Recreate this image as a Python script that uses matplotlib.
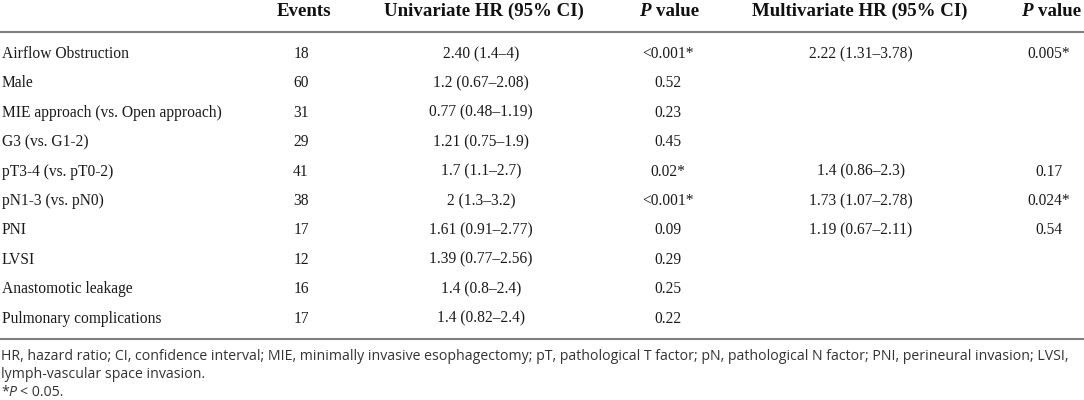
import matplotlib
matplotlib.use("Agg")
import matplotlib.pyplot as plt

# table content
variables = [
    "Airflow Obstruction",
    "Male",
    "MIE approach (vs. Open approach)",
    "G3 (vs. G1-2)",
    "pT3-4 (vs. pT0-2)",
    "pN1-3 (vs. pN0)",
    "PNI",
    "LVSI",
    "Anastomotic leakage",
    "Pulmonary complications",
]
events = [18, 60, 31, 29, 41, 38, 17, 12, 16, 17]
uni_hr = [
    "2.40 (1.4–4)", "1.2 (0.67–2.08)", "0.77 (0.48–1.19)", "1.21 (0.75–1.9)",
    "1.7 (1.1–2.7)", "2 (1.3–3.2)", "1.61 (0.91–2.77)", "1.39 (0.77–2.56)",
    "1.4 (0.8–2.4)", "1.4 (0.82–2.4)",
]
uni_p = ["<0.001*", "0.52", "0.23", "0.45", "0.02*", "<0.001*", "0.09", "0.29", "0.25", "0.22"]
multi_hr = ["2.22 (1.31–3.78)", "", "", "", "1.4 (0.86–2.3)", "1.73 (1.07–2.78)",
            "1.19 (0.67–2.11)", "", "", ""]
multi_p = ["0.005*", "", "", "", "0.17", "0.024*", "0.54", "", "", ""]

headers = ["", "Events", "Univariate HR (95% CI)", "P value", "Multivariate HR (95% CI)", "P value"]
footnotes = [
    "HR, hazard ratio; CI, confidence interval; MIE, minimally invasive esophagectomy; pT, "
    "pathological T factor; pN, pathological N factor; PNI, perineural invasion; LVSI,",
    "lymph-vascular space invasion.",
]
sig_note = ("*", "P", "< 0.05.")

W, H = 1084, 400
SERIF = "Liberation Serif"
SANS = "Open Sans"

fig = plt.figure(figsize=(W / 100, H / 100), dpi=100)
ax = fig.add_axes([0, 0, 1, 1])
ax.set_xlim(0, W)
ax.set_ylim(H, 0)
ax.axis("off")
renderer = fig.canvas.get_renderer()

head_x = [2, 304, 484, 669, 860, 1051]
col_x = [2, 301, 481, 668, 861, 1049]
head_base = 15.5
row_base0 = 58
row_step = 29.4
body_size = 11.2
head_size = 13.6


def text_width(t):
    return t.get_window_extent(renderer).width


def draw_runs(x, y, runs, ha="center"):
    # runs: (text, fontprops, space_before) drawn one after another on one baseline
    objs, widths, gaps = [], [], []
    for s, props, spaced in runs:
        t = ax.text(0, y, s, va="baseline", ha="left", **props)
        objs.append(t)
        widths.append(text_width(t))
        gaps.append(props.get("fontsize", 10) * 0.25 * 100 / 72 if spaced else 0.0)
    total = sum(widths) + sum(gaps)
    cur = x - total / 2 if ha == "center" else x
    for t, w, g in zip(objs, widths, gaps):
        cur += g
        t.set_x(cur)
        cur += w


# header
head_props = dict(family=SERIF, fontsize=head_size, fontweight="bold", color="#111111")
for j, h in enumerate(headers):
    if not h:
        continue
    if h.startswith("P "):
        draw_runs(head_x[j], head_base, [
            ("P", dict(head_props, fontstyle="italic"), False),
            (h[2:], head_props, True),
        ])
    else:
        ax.text(head_x[j], head_base, h, ha="center", va="baseline", **head_props)

# rules
rule_kw = dict(color="#808080", linewidth=1.5, solid_capstyle="butt")
ax.plot([0, W], [32, 32], **rule_kw)
ax.plot([0, W], [339, 339], **rule_kw)

# body
body_props = dict(family=SERIF, fontsize=body_size, color="#1a1a1a")
for i in range(len(variables)):
    y = row_base0 + i * row_step
    ax.text(col_x[0], y, variables[i], ha="left", va="baseline", **body_props)
    cells = [str(events[i]), uni_hr[i], uni_p[i], multi_hr[i], multi_p[i]]
    for j, c in enumerate(cells, start=1):
        if c:
            ax.text(col_x[j], y, c, ha="center", va="baseline", **body_props)

# footnotes
foot_props = dict(family=SANS, fontsize=10.2, color="#333333")
foot_base = [360, 378.5]
for line, y in zip(footnotes, foot_base):
    ax.text(1, y, line, ha="left", va="baseline", **foot_props)
draw_runs(1, 395.5, [
    (sig_note[0], foot_props, False),
    (sig_note[1], dict(foot_props, fontstyle="italic"), False),
    (sig_note[2], foot_props, True),
], ha="left")

fig.savefig("out.png", dpi=100)
